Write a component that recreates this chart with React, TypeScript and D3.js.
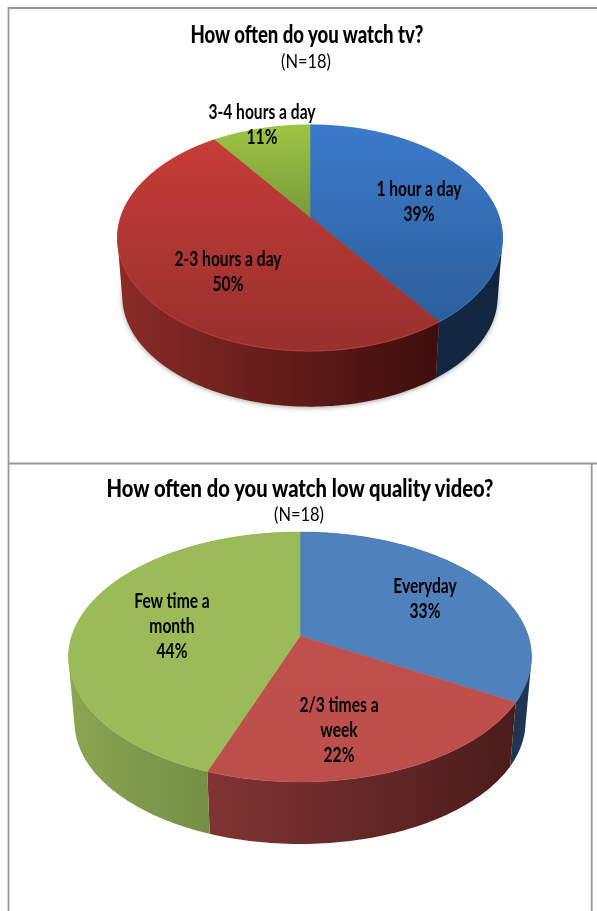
import React from "react";
import * as d3 from "d3";

const W = 597;
const H = 911;
const FONT = "Lato, Roboto, sans-serif";

// Chart 1
const tvCategories = ["1 hour a day", "2-3 hours a day", "3-4 hours a day"];
const tvValues = [39, 50, 11];
// Chart 2
const videoCategories = ["Everyday", "2/3 times a week", "Few time a month"];
const videoValues = [33, 22, 44];

type Lbl = { lines: string[]; x: number; y: number };
type Cfg = {
  id: string;
  values: number[];
  categories: string[];
  title: string;
  titleBox: [number, number, number];
  nBox: [number, number];
  cx: number;
  apexY: number;
  topY: number;
  botY: number;
  rx: number;
  depthY: number;
  baseScale: number;
  squash: number;
  rim: boolean;
  shadow: boolean;
  top: [string, string][];
  side: [string, string][];
  labels: Lbl[];
};

const charts: Cfg[] = [
  {
    id: "tv",
    values: tvValues,
    categories: tvCategories,
    title: "How often do you watch tv?",
    titleBox: [307, 43, 233],
    nBox: [306, 68],
    cx: 310,
    apexY: 217,
    topY: 125,
    botY: 351,
    rx: 192.5,
    depthY: 59,
    baseScale: 0.975,
    squash: 0.858,
    rim: true,
    shadow: true,
    top: [
      ["#3b7bcb", "#2a5a94"],
      ["#c93d39", "#97302c"],
      ["#9dc544", "#465a2b"],
    ],
    side: [
      ["#15294a", "#12263f"],
      ["#8b2b27", "#3d0e0c"],
      ["#6f8a30", "#5d7528"],
    ],
    labels: [
      { lines: ["1 hour a day", "39%"], x: 419, y: 196 },
      { lines: ["2-3 hours a day", "50%"], x: 228, y: 266 },
      { lines: ["3-4 hours a day", "11%"], x: 262, y: 119 },
    ],
  },
  {
    id: "video",
    values: videoValues,
    categories: videoCategories,
    title: "How often do you watch low quality video?",
    titleBox: [300, 497, 387],
    nBox: [299, 521],
    cx: 300,
    apexY: 636,
    topY: 532,
    botY: 782,
    rx: 231.5,
    depthY: 65.8,
    baseScale: 0.974,
    squash: 1,
    rim: false,
    shadow: false,
    top: [
      ["#4f81bd", "#4f81bd"],
      ["#c0504d", "#bd4f4b"],
      ["#9bbb59", "#9bbb59"],
    ],
    side: [
      ["#1f3654", "#1f3552"],
      ["#813433", "#4a1c1b"],
      ["#8ba552", "#66803e"],
    ],
    labels: [
      { lines: ["Everyday", "33%"], x: 425, y: 593 },
      { lines: ["2/3 times a", "week", "22%"], x: 339, y: 712 },
      { lines: ["Few time a", "month", "44%"], x: 172, y: 608 },
    ],
  },
];

function Pie3D({ c }: { c: Cfg }) {
  const slices = d3.pie<number>().sort(null).startAngle(0).endAngle(2 * Math.PI)(c.values);

  // perspective projection of the unit disc, from apex / top / bottom of the ellipse
  const up = c.apexY - c.topY;
  const down = c.botY - c.apexY;
  const k = (up - down) / (up + down);
  const B = up * (1 - k);
  const C = c.rx * Math.sqrt(1 - k * k);

  const project = (a: number, base: boolean): [number, number] => {
    const wa = Math.atan2(c.squash * Math.sin(a), Math.cos(a));
    const X = Math.sin(wa);
    const Y = -Math.cos(wa);
    const w = 1 + k * Y;
    const s = base ? c.baseScale : 1;
    return [c.cx + (s * C * X) / w, c.apexY + (base ? c.depthY : 0) + (s * B * Y) / w];
  };
  const samples = (a0: number, a1: number) => {
    const n = Math.max(2, Math.ceil((a1 - a0) / 0.02));
    return d3.range(n + 1).map((i) => a0 + ((a1 - a0) * i) / n);
  };
  const line = d3.line();

  const topPath = (a0: number, a1: number) =>
    line([[c.cx, c.apexY], ...samples(a0, a1).map((a) => project(a, false))]) + "Z";

  // the wall is swept as small quads with one winding, so the silhouette stays whole
  const sidePath = (a0: number, a1: number) => {
    const aa = samples(a0, a1);
    return d3
      .pairs(aa)
      .map(([p, q]) => {
        const poly: [number, number][] = [
          project(p, false),
          project(q, false),
          project(q, true),
          project(p, true),
        ];
        if (d3.polygonArea(poly) < 0) poly.reverse();
        return line(poly) + "Z";
      })
      .join("");
  };
  const basePath = line(samples(0, 2 * Math.PI).map((a) => project(a, true))) + "Z";

  return (
    <g>
      <defs>
        {slices.map((_, i) => (
          <React.Fragment key={i}>
            <linearGradient id={`${c.id}-t${i}`} gradientUnits="userSpaceOnUse" x1="0" x2="0" y1={c.topY} y2={c.botY}>
              <stop offset="0" stopColor={c.top[i][0]} />
              <stop offset="1" stopColor={c.top[i][1]} />
            </linearGradient>
            <linearGradient id={`${c.id}-s${i}`} x1="0" x2="1" y1="0" y2="0">
              <stop offset="0" stopColor={c.side[i][0]} />
              <stop offset="1" stopColor={c.side[i][1]} />
            </linearGradient>
          </React.Fragment>
        ))}
      </defs>
      {c.shadow && (
        <path d={basePath} fill="#000" opacity={0.35} filter="url(#soft)" transform="translate(0,1)" />
      )}
      {slices.map((d, i) => (
        <path key={i} d={sidePath(d.startAngle, d.endAngle)} fill={`url(#${c.id}-s${i})`} />
      ))}
      {slices.map((d, i) => (
        <path
          key={i}
          d={topPath(d.startAngle, d.endAngle)}
          fill={`url(#${c.id}-t${i})`}
          stroke={`url(#${c.id}-t${i})`}
          strokeWidth={0.5}
        />
      ))}
      {c.rim &&
        slices.map((d, i) => (
          <path
            key={i}
            d={line(samples(d.startAngle, d.endAngle).map((a) => project(a, false))) as string}
            fill="none"
            stroke={c.top[i][0]}
            strokeWidth={1}
            opacity={0.8}
          />
        ))}
      <g filter="url(#textblur)">
        <text
          x={c.titleBox[0]}
          y={c.titleBox[1]}
          textAnchor="middle"
          fontFamily={FONT}
          fontWeight={900}
          fontSize={24}
          fill="#000"
          textLength={c.titleBox[2]}
          lengthAdjust="spacingAndGlyphs"
        >
          {c.title}
        </text>
        <text
          x={c.nBox[0]}
          y={c.nBox[1]}
          textAnchor="middle"
          fontFamily={FONT}
          fontSize={20}
          fill="#000"
          textLength={50}
          lengthAdjust="spacingAndGlyphs"
        >
          (N=18)
        </text>
        {c.labels.map((l, i) =>
          l.lines.map((t, j) => (
            <text
              key={`${i}-${j}`}
              transform={`translate(${l.x},${l.y + j * 25}) scale(0.78,1)`}
              textAnchor="middle"
              fontFamily={FONT}
              fontWeight={700}
              fontSize={20}
              fill="#000"
            >
              {t}
            </text>
          ))
        )}
      </g>
    </g>
  );
}

export default function App() {
  return (
    <svg
      width={W}
      height={H}
      viewBox={`0 0 ${W} ${H}`}
      style={{ position: "fixed", left: 0, top: 0, background: "#fff" }}
    >
      <defs>
        <filter id="soft" x="-10%" y="-10%" width="120%" height="120%">
          <feGaussianBlur stdDeviation="2.5" />
        </filter>
        <filter id="textblur" x="-5%" y="-5%" width="110%" height="110%">
          <feGaussianBlur stdDeviation="0.4" />
        </filter>
      </defs>
      <rect width={W} height={H} fill="#fff" />
      {charts.map((c) => (
        <Pie3D key={c.id} c={c} />
      ))}
      <g stroke="#999" strokeWidth={1.8} fill="none">
        <path d="M597,8H8.5V911" />
        <path d="M8.5,463.5H597" />
        <path d="M591.7,463.5V911" />
      </g>
    </svg>
  );
}
